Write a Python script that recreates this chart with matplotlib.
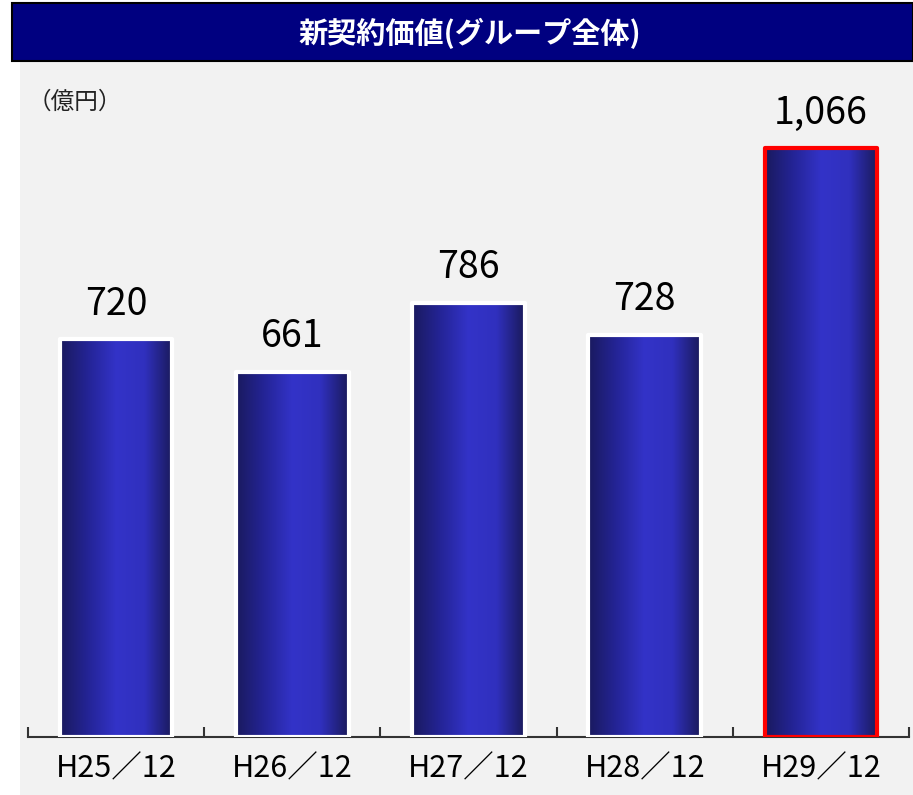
import matplotlib
matplotlib.use("Agg")
import matplotlib.pyplot as plt
import numpy as np
from matplotlib.colors import LinearSegmentedColormap
from matplotlib.patches import Rectangle

categories = ['H25／12', 'H26／12', 'H27／12', 'H28／12', 'H29／12']
values = [720, 661, 786, 728, 1066]
value_labels = ['720', '661', '786', '728', '1,066']
title = '新契約価値(グループ全体)'
unit = '（億円）'

jp = ['Noto Sans CJK JP', 'DejaVu Sans']

W, H = 913, 795
fig = plt.figure(figsize=(W / 100, H / 100), dpi=100, facecolor='white')

# gray panel and title bar
fig.patches.append(Rectangle((20 / W, 0), 1 - 20 / W, (H - 62) / H,
                             transform=fig.transFigure, facecolor='#f2f2f2',
                             edgecolor='none', zorder=-3))
fig.patches.append(Rectangle((12 / W, (H - 61) / H), 1 - 12 / W, 58 / H,
                             transform=fig.transFigure, facecolor='#000080',
                             edgecolor='black', lw=1.5, zorder=-2))
fig.text(470 / W, (H - 33) / H, title, color='white', fontsize=21,
         fontweight='bold', family=jp, ha='center', va='center')
fig.text(28 / W, (H - 102) / H, unit, color='#222222', fontsize=17,
         family=jp, ha='left', va='center')

ax = fig.add_axes([28 / W, (H - 737) / H, (909 - 28) / W, (737 - 62) / H])
ax.set_facecolor('none')
ax.set_zorder(1)

# dark edges, bright middle
cmap = LinearSegmentedColormap.from_list(
    'barg', ['#1a1a5e', '#242496', '#3333c8', '#3030be', '#1a1a5a'])
grad = np.linspace(0, 1, 256).reshape(1, -1)
width = 0.64

for i, v in enumerate(values):
    x0 = i - width / 2
    ax.imshow(grad, cmap=cmap, extent=(x0, x0 + width, 0, v),
              aspect='auto', zorder=2, interpolation='bilinear')
    edge = 'red' if i == len(values) - 1 else 'white'
    rect = Rectangle((x0, 0), width, v, facecolor='none', edgecolor=edge,
                     lw=3, zorder=3, joinstyle='round')
    ax.add_patch(rect)
    ax.annotate(value_labels[i], (i, v), xytext=(0, 11),
                textcoords='offset points', ha='center', va='bottom',
                fontsize=27, family=jp, color='black')

ax.set_ylim(0, 675 / (589 / 1066))
ax.set_xlim(-0.5, 4.5)

for s in ['top', 'left', 'right']:
    ax.spines[s].set_visible(False)
ax.spines['bottom'].set_color('#333333')
ax.spines['bottom'].set_linewidth(1.5)
ax.spines['bottom'].set_zorder(1)
ax.set_yticks([])
ax.set_xticks(range(len(categories)))
ax.set_xticklabels(categories, family=jp, fontsize=22, color='black')
ax.tick_params(axis='x', which='major', length=0, pad=12)
ax.set_xticks(np.arange(-0.5, 5, 1), minor=True)
ax.tick_params(axis='x', which='minor', direction='in', length=7,
               width=1.5, color='#333333')

fig.savefig('out.png', dpi=100, facecolor='white')
